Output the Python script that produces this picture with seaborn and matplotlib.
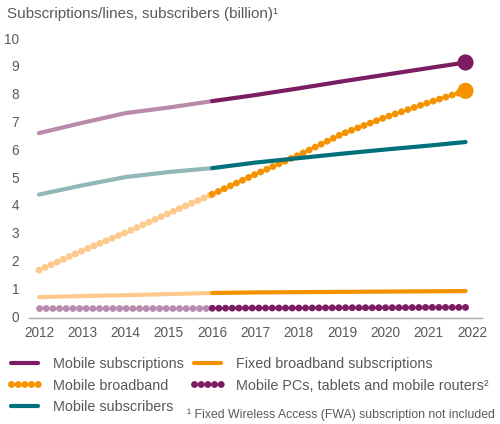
import matplotlib
matplotlib.use("Agg")
import matplotlib.pyplot as plt
import seaborn as sns
import pandas as pd
from matplotlib.lines import Line2D

sns.set_theme(style="white")
plt.rcParams['font.family'] = ['Liberation Sans', 'DejaVu Sans']

# ---- data ----
years = [2012, 2013, 2014, 2015, 2016, 2017, 2018, 2019, 2020, 2021, 2021.85]
mobile_subscriptions = [6.58, 6.95, 7.30, 7.50, 7.73, 7.95, 8.19, 8.44, 8.68, 8.92, 9.12]
mobile_broadband = [1.65, 2.35, 3.00, 3.70, 4.38, 5.10, 5.79, 6.55, 7.15, 7.68, 8.10]
mobile_subscribers = [4.37, 4.70, 5.00, 5.18, 5.32, 5.52, 5.68, 5.84, 5.99, 6.13, 6.26]
fixed_broadband = [0.68, 0.72, 0.75, 0.79, 0.83, 0.85, 0.86, 0.87, 0.88, 0.89, 0.90]
mobile_pcs = [0.28, 0.28, 0.28, 0.28, 0.28, 0.29, 0.29, 0.30, 0.30, 0.31, 0.31]
split_year = 2016

labels = ["Mobile subscriptions", "Mobile broadband", "Mobile subscribers",
          "Fixed broadband subscriptions", "Mobile PCs, tablets and mobile routers\u00b2"]
x_ticks = list(range(2012, 2023))
y_ticks = list(range(0, 11))
title = "Subscriptions/lines, subscribers (billion)\u00b9"
footnote = "\u00b9 Fixed Wireless Access (FWA) subscription not included"

series = [
    (mobile_subscriptions, "#b98aab", "#7c1d62", "solid"),
    (mobile_broadband, "#fec98c", "#f59200", "dot"),
    (mobile_subscribers, "#91b7b8", "#00707a", "solid"),
    (fixed_broadband, "#fec98c", "#f59200", "solid"),
    (mobile_pcs, "#b88cae", "#7c1d62", "dot"),
]

fig = plt.figure(figsize=(5.0, 4.24), dpi=100)
ax = fig.add_axes([0.058, 0.25, 0.906, 0.68])

DOT = (0, (0.01, 0.95))
DOT_LW = 5.0

for vals, c_hist, c_fore, style in series:
    df = pd.DataFrame({"year": years, "value": vals})
    hist = df[df.year <= split_year]
    fore = df[df.year >= split_year]
    for part, col in ((hist, c_hist), (fore, c_fore)):
        if style == "dot":
            sns.lineplot(data=part, x="year", y="value", ax=ax, color=col,
                         linewidth=DOT_LW)
            line = ax.lines[-1]
            line.set_linestyle(DOT)
            line.set_dash_capstyle("round")
        else:
            sns.lineplot(data=part, x="year", y="value", ax=ax, color=col,
                         linewidth=3.0)
            ax.lines[-1].set_solid_capstyle("round")

# end markers
end_df = pd.DataFrame({"year": [years[-1], years[-1]],
                       "value": [mobile_subscriptions[-1], mobile_broadband[-1]],
                       "name": ["a", "b"]})
sns.scatterplot(data=end_df, x="year", y="value", ax=ax, hue="name",
                palette=["#7c1d62", "#f59200"], s=135, linewidth=0, legend=False, zorder=5)

ax.set_xlim(2011.77, 2022.23)
ax.set_ylim(-0.07, 10.3)
ax.set_xticks(x_ticks)
ax.set_yticks(y_ticks)
ax.set_xticklabels([str(t) for t in x_ticks])
ax.set_yticklabels([str(t) for t in y_ticks])
ax.set_xlabel("")
ax.set_ylabel("")
txt = "#58595b"
ax.tick_params(axis="both", length=0, labelsize=9.8, colors=txt)
ax.tick_params(axis="x", pad=6)
ax.tick_params(axis="y", pad=7)
for s in ("left", "top", "right"):
    ax.spines[s].set_visible(False)
ax.spines["bottom"].set_color("#a9a9a9")
ax.spines["bottom"].set_linewidth(1.0)
ax.grid(False)

fig.text(0.014, 0.967, title, fontsize=11.0, color=txt, ha="left", va="center")

# legend
handles = []
for vals, c_hist, c_fore, style in series:
    if style == "dot":
        h = Line2D([0], [0], color=c_fore, linewidth=DOT_LW, linestyle=DOT,
                   dash_capstyle="round")
    else:
        h = Line2D([0], [0], color=c_fore, linewidth=3.0, solid_capstyle="round")
    handles.append(h)
leg = fig.legend(handles, labels, ncol=2, loc="upper left",
                 bbox_to_anchor=(0.022, 0.158), frameon=False, fontsize=10.4,
                 handlelength=1.9, handletextpad=1.0, columnspacing=0.7,
                 labelspacing=0.52, borderaxespad=0, borderpad=0)
for t in leg.get_texts():
    t.set_color(txt)

fig.text(0.374, 0.022, footnote, fontsize=8.8, color=txt, ha="left", va="center")

fig.savefig("out.png", dpi=100)
